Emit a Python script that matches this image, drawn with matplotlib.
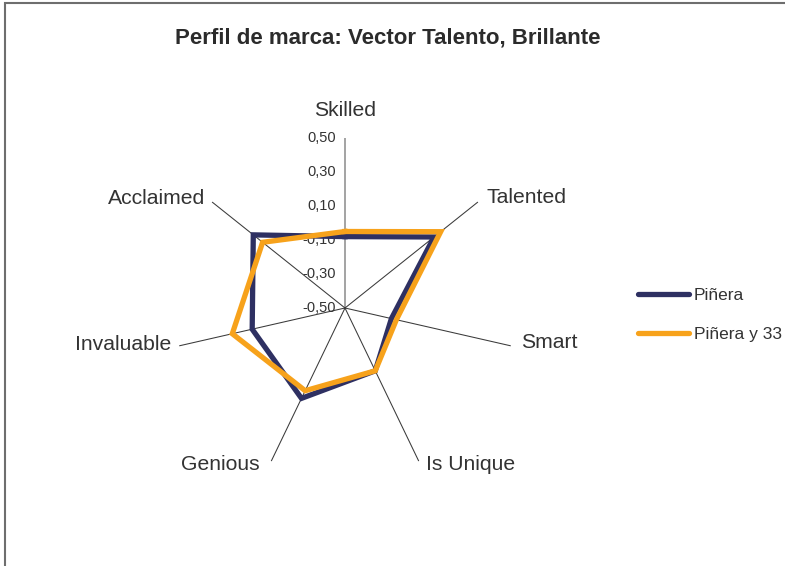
import numpy as np
import matplotlib
matplotlib.use("Agg")
import matplotlib.pyplot as plt
from matplotlib.transforms import offset_copy
from matplotlib.patches import Rectangle
from matplotlib.lines import Line2D

# ---- data ----
categories = ["Skilled", "Talented", "Smart", "Is Unique", "Genious", "Invaluable", "Acclaimed"]
pinera = [-0.08, 0.17, -0.22, -0.09, 0.09, 0.06, 0.19]
pinera_33 = [-0.05, 0.22, -0.19, -0.09, 0.04, 0.18, 0.12]
series_names = ["Piñera", "Piñera y 33"]
r_ticks = [0.50, 0.30, 0.10, -0.10, -0.30, -0.50]
r_tick_labels = ["0,50", "0,30", "0,10", "-0,10", "-0,30", "-0,50"]
title = "Perfil de marca: Vector Talento, Brillante"

plt.rcParams['font.family'] = ['Liberation Sans', 'DejaVu Sans']

W, H = 785, 566
fig = plt.figure(figsize=(W / 100, H / 100), dpi=100)

# outer frame (open at the bottom and right like the reference crop)
fig.patches.append(Rectangle((5 / W, -0.05), 1.0, (H - 3) / H + 0.05,
                             transform=fig.transFigure, fill=False,
                             edgecolor='#6e6e6e', lw=1.5))

fig.text(388 / W, 1 - 38 / H, title, ha='center', va='center',
         fontsize=16, fontweight='bold', color='#2b2b2b')

ax = fig.add_axes([175 / W, (H - 478) / H, 340 / W, 340 / H], projection='polar')
ax.set_theta_offset(np.pi / 2)
ax.set_theta_direction(-1)
ax.set_ylim(-0.5, 0.5)
ax.grid(False)
ax.spines['polar'].set_visible(False)
ax.set_xticks([])
ax.set_yticks([])
ax.patch.set_alpha(0)

n = len(categories)
angles = np.arange(n) * 2 * np.pi / n

# spokes
for i, a in enumerate(angles):
    if i == 0:
        ax.plot([a, a], [-0.5, 0.5], color='#8a8a8a', lw=1.1, zorder=1)
    else:
        ax.plot([a, a], [-0.5, 0.5], color='#3a3a3a', lw=0.75, zorder=1)

colors = ['#2e3062', '#f7a21b']
closed_angles = np.append(angles, angles[0])
for vals, c, name in zip([pinera, pinera_33], colors, series_names):
    v = np.append(vals, vals[0])
    ax.plot(closed_angles, v, color=c, lw=3.8, solid_joinstyle='miter', zorder=3, label=name)

# radial tick labels
for v, lab in zip(r_ticks, r_tick_labels):
    ax.text(0, v, lab, transform=offset_copy(ax.transData, fig=fig, x=-9, y=0, units='dots'),
            ha='right', va='center', fontsize=10.5, color='#333333', zorder=2)

# category labels
offsets = [(0, 28, 'center'), (9, 5, 'left'), (10, 3, 'left'), (7, -3, 'left'),
           (-12, -3, 'right'), (-8, 1, 'right'), (-7, 4, 'right')]
for a, lab, (dx, dy, ha) in zip(angles, categories, offsets):
    ax.text(a, 0.5, lab, transform=offset_copy(ax.transData, fig=fig, x=dx, y=dy, units='dots'),
            ha=ha, va='center', fontsize=15.2, color='#333333')

handles = [Line2D([], [], color=c, lw=3.8, solid_capstyle='round') for c in colors]
fig.legend(handles, series_names, loc='center left', bbox_to_anchor=(638 / W, 1 - 315 / H),
           frameon=False, fontsize=12.5, handlelength=2.95, handletextpad=0.25,
           borderpad=0, borderaxespad=0, labelspacing=1.4, labelcolor='#333333')

fig.savefig("out.png", dpi=100)
